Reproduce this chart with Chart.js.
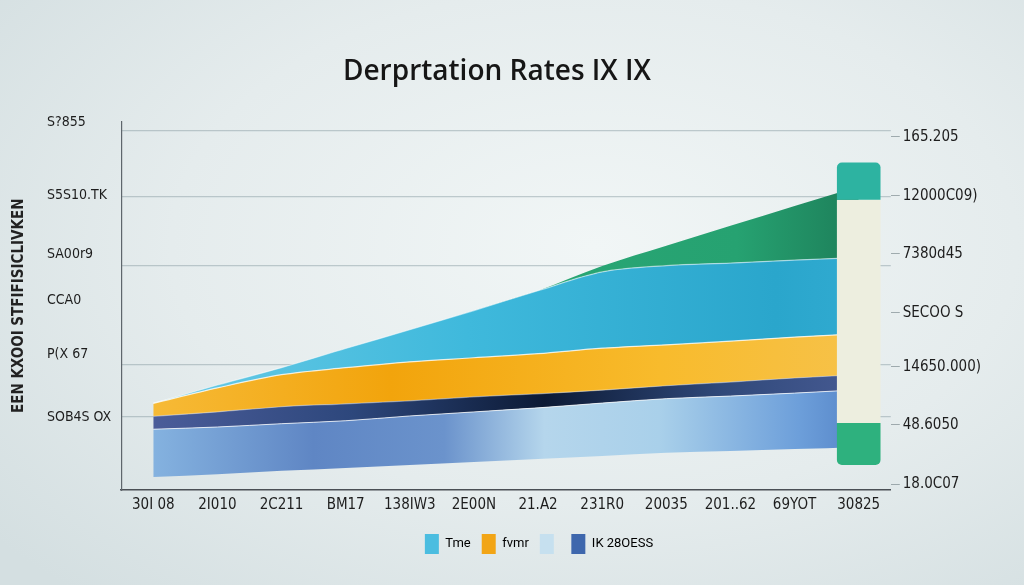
<!DOCTYPE html>
<html>
<head>
<meta charset="utf-8">
<script src="https://cdn.jsdelivr.net/npm/chart.js@4.4.1/dist/chart.umd.min.js"></script>
<style>
  html, body { margin: 0; padding: 0; }
  body {
    width: 1024px; height: 585px; overflow: hidden;
    background: radial-gradient(ellipse 75% 80% at 58% 42%, #f1f6f6 0%, #e5eced 55%, #d4dfe1 100%);
  }
  #wrap { position: relative; width: 1024px; height: 585px; }
</style>
</head>
<body>
<div id="wrap"><canvas id="c" width="1024" height="585"></canvas></div>
<script>
// ---- data ----
const TITLE = 'Derprtation Rates IX IX';
const Y_TITLE = 'EEN KXOOI STFIFISICLIVKEN';
const CATEGORIES = ['30I 08','2I010','2C211','BM17','138IW3','2E00N','21.A2','231R0','20035','201..62','69YOT','30825'];

// stacked band thicknesses (bottom to top), on a 0-100 scale
const BASE   = [3.5, 4.3, 5.2, 6.0, 6.8, 7.6, 8.4, 9.2, 10.1, 10.6, 11.1, 11.7];
const BLUE   = [13.0, 12.8, 12.8, 12.8, 13.3, 13.6, 13.9, 14.4, 14.7, 14.9, 15.2, 15.5];
const NAVY   = [3.5, 4.1, 4.6, 4.6, 4.1, 4.1, 3.8, 3.5, 3.5, 3.8, 4.1, 4.1];
const ORANGE = [3.5, 6.5, 8.7, 9.8, 10.6, 10.6, 10.9, 11.4, 11.1, 11.1, 11.1, 11.1];
const CYAN   = [0, 0.8, 1.9, 5.2, 8.7, 12.8, 17.1, 20.7, 21.5, 21.2, 20.9, 20.7];
const GREEN  = [0, 0, 0, 0, 0, 0, 0, 1.6, 5.4, 10.1, 14.7, 19.3];

// side panel (floating segments on last category)
const PANEL_TOP    = [78.8, 88.9];
const PANEL_MID    = [18.2, 78.8];
const PANEL_BOTTOM = [6.8, 18.2];

// axis ticks
const LEFT_TICK_VALUES = [99.7, 79.9, 63.9, 51.6, 36.7, 19.8];
const LEFT_TICK_LABELS = ['S?855', 'S5S10.TK', 'SA00r9', 'CCA0', 'P(X 67', 'SOB4S OX'];
const GRID_VALUES = [97.6, 79.6, 60.9, 34.0, 19.8];
const RIGHT_TICK_VALUES = [95.9, 79.9, 64.1, 48.1, 33.4, 17.7, 1.6];
const RIGHT_TICK_LABELS = ['165.205', '12000C09)', '7380d45', 'SECOO S', '14650.000)', '48.6050', '18.0C07'];

const LEGEND_LABELS = ['Tme', 'fvmr', '', 'IK 28OESS'];
const LEGEND_COLORS = ['#4bbde0', '#f2a516', '#c6e0ef', '#3e67ad'];

// ---- helpers ----
function hGrad(stops) {
  return function (ctx) {
    const chart = ctx.chart;
    const a = chart.chartArea;
    if (!a) return stops[0][1];
    const g = chart.ctx.createLinearGradient(a.left, 0, a.right, 0);
    stops.forEach(s => g.addColorStop(s[0], s[1]));
    return g;
  };
}
function onlyLast(pair) {
  return CATEGORIES.map((_, i) => i === CATEGORIES.length - 1 ? pair : null);
}
const FONT_NARROW = "'Liberation Sans Narrow', 'DejaVu Sans Condensed', 'Roboto', sans-serif";

const lineCommon = {
  type: 'line',
  yAxisID: 'y',
  pointRadius: 0,
  pointHoverRadius: 0,
  tension: 0.35,
  cubicInterpolationMode: 'monotone',
  borderWidth: 1.2,
  borderColor: 'rgba(255,255,255,0.75)',
  fill: '-1',
  order: 2
};

const barCommon = {
  type: 'bar',
  yAxisID: 'yb',
  grouped: false,
  categoryPercentage: 1,
  barPercentage: 0.68,
  borderSkipped: false,
  order: 0
};

// shifts the legend row horizontally to sit where the reference has it
const legendShift = {
  id: 'legendShift',
  afterLayout(chart) {
    const l = chart.legend;
    if (l) { l.left += 42; l.right += 42; }
  }
};

new Chart(document.getElementById('c'), {
  plugins: [legendShift],
  data: {
    labels: CATEGORIES,
    datasets: [
      Object.assign({}, lineCommon, { label: 'base', data: BASE, fill: false, borderWidth: 0, borderColor: 'rgba(0,0,0,0)', backgroundColor: 'rgba(0,0,0,0)' }),
      Object.assign({}, lineCommon, { label: 'blue', data: BLUE, borderWidth: 1,
        backgroundColor: hGrad([[0,'#8cbbe5'],[0.25,'#5f86c4'],[0.42,'#6b93cc'],[0.55,'#b5d6ec'],[0.7,'#a9d0ea'],[0.88,'#6d9fda'],[1,'#4a78bf']]) }),
      Object.assign({}, lineCommon, { label: 'navy', data: NAVY, borderColor: 'rgba(255,255,255,0.35)',
        backgroundColor: hGrad([[0,'#50609e'],[0.3,'#2d477c'],[0.55,'#0c1a35'],[0.78,'#30497a'],[1,'#4b5e98']]) }),
      Object.assign({}, lineCommon, { label: 'orange', data: ORANGE,
        backgroundColor: hGrad([[0,'#f7bd3c'],[0.35,'#f2a40c'],[0.7,'#f8bb2c'],[1,'#f6c34e']]) }),
      Object.assign({}, lineCommon, { label: 'cyan', data: CYAN, borderColor: 'rgba(255,255,255,0.5)',
        backgroundColor: hGrad([[0,'#6ccbe6'],[0.45,'#3fb9dc'],[0.85,'#2aa6cc'],[1,'#33acd2']]) }),
      Object.assign({}, lineCommon, { label: 'green', data: GREEN, borderWidth: 0, borderColor: 'rgba(0,0,0,0)',
        backgroundColor: hGrad([[0,'#2fae7c'],[0.8,'#26a271'],[1,'#1b7553']]) }),
      Object.assign({}, barCommon, { label: 'panelTop', data: onlyLast(PANEL_TOP), backgroundColor: '#2db3a1',
        borderRadius: { topLeft: 5, topRight: 5, bottomLeft: 0, bottomRight: 0 } }),
      Object.assign({}, barCommon, { label: 'panelMid', data: onlyLast(PANEL_MID), backgroundColor: '#edeedf', borderRadius: 0 }),
      Object.assign({}, barCommon, { label: 'panelBottom', data: onlyLast(PANEL_BOTTOM), backgroundColor: '#2eb17e',
        borderRadius: { topLeft: 0, topRight: 0, bottomLeft: 5, bottomRight: 5 } })
    ]
  },
  options: {
    responsive: false,
    animation: false,
    events: [],
    layout: { padding: { left: 10, right: 40, top: 0, bottom: 21 } },
    plugins: {
      title: {
        display: true,
        text: TITLE,
        color: '#161616',
        font: { family: "'Open Sans', 'Noto Sans', sans-serif", size: 28, weight: '600' },
        padding: { top: 55, bottom: 33 }
      },
      legend: {
        display: true,
        position: 'bottom',
        labels: {
          boxWidth: 14,
          boxHeight: 20,
          padding: 11,
          color: '#333',
          font: { family: "'Roboto', sans-serif", size: 13 },
          generateLabels: () => LEGEND_LABELS.map((t, i) => ({
            text: t, fillStyle: LEGEND_COLORS[i], strokeStyle: 'rgba(0,0,0,0)', lineWidth: 0, hidden: false, datasetIndex: i
          }))
        }
      },
      tooltip: { enabled: false }
    },
    scales: {
      x: {
        offset: true,
        grid: { display: false, drawTicks: false },
        border: { display: true, color: '#4a4f55', width: 1.5 },
        ticks: { color: '#1d1d1d', font: { family: FONT_NARROW, size: 15 }, maxRotation: 0, autoSkip: false, padding: 6 },
        afterFit: s => { s.height += 3; }
      },
      y: {
        position: 'left',
        stacked: true,
        min: 0, max: 100,
        afterBuildTicks: s => { s.ticks = LEFT_TICK_VALUES.map(v => ({ value: v })); },
        ticks: {
          callback: (v, i) => LEFT_TICK_LABELS[i],
          color: '#1d1d1d',
          font: { family: FONT_NARROW, size: 14 },
          crossAlign: 'far',
          padding: 5
        },
        grid: { display: false, drawTicks: false },
        border: { display: true, color: '#5e666c', width: 1.2 }
      },
      yg: {
        position: 'left',
        weight: 10,
        min: 0, max: 100,
        afterBuildTicks: s => { s.ticks = GRID_VALUES.map(v => ({ value: v })); },
        ticks: { display: false },
        grid: { color: 'rgba(130,150,158,0.45)', lineWidth: 1.2, drawTicks: false },
        border: { display: false },
        title: {
          display: true, text: Y_TITLE, color: '#222',
          font: { family: FONT_NARROW, size: 15, weight: 'bold' },
          padding: { top: 0, bottom: 19 }
        }
      },
      y2: {
        position: 'right',
        min: 0, max: 100,
        afterBuildTicks: s => { s.ticks = RIGHT_TICK_VALUES.map(v => ({ value: v })); },
        ticks: {
          callback: (v, i) => RIGHT_TICK_LABELS[i],
          color: '#1d1d1d',
          font: { family: FONT_NARROW, size: 15 },
          padding: 3
        },
        grid: { drawOnChartArea: false, color: 'rgba(110,125,130,0.6)', tickLength: 9 },
        border: { display: false }
      },
      yb: { display: false, min: 0, max: 100 }
    }
  }
});
</script>
</body>
</html>
